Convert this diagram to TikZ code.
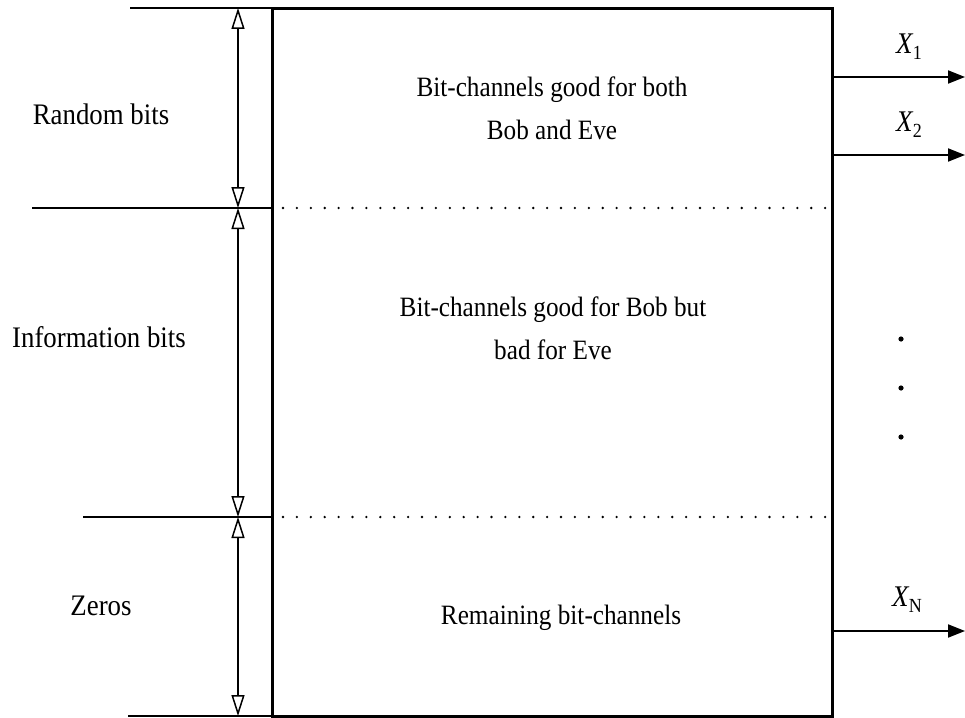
\documentclass[tikz,border=0pt]{standalone}
\usepackage{fontspec}
\setmainfont[FakeStretch=0.9]{Liberation Serif}
\usetikzlibrary{arrows.meta}
\newcommand{\outlbl}[1]{\textit{X}\kern-0.5pt\raisebox{-6pt}{\fontsize{20}{20}\selectfont #1}}
\begin{document}
\begin{tikzpicture}[x=1pt,y=-1pt,
  txt/.style={font=\fontsize{28}{43}\selectfont, align=center, inner sep=0pt},
  lbl/.style={font=\fontsize{29.8}{30}\selectfont, inner sep=0pt},
  xlbl/.style={font=\fontsize{30}{30}\selectfont, inner sep=0pt},
  rule/.style={line width=2pt},
  boxline/.style={line width=3pt},
  dimarrow/.style={line width=1.5pt, {Triangle[open,length=21pt,width=13pt]}-{Triangle[open,length=21pt,width=13pt]}},
  outarrow/.style={line width=2pt, -{Triangle[length=17pt,width=13pt]}},
  sep/.style={line width=2.6pt, line cap=round, dash pattern=on 0pt off 13.9pt}]
\useasboundingbox (0,0) rectangle (965,717);

% main block
\draw[boxline] (272,9) rectangle (832,716);

% level lines on the left
\coordinate (t0) at (238,8);
\coordinate (t1) at (238,208);
\coordinate (t2) at (238,517);
\coordinate (t3) at (238,716);
\draw[rule] (130,8) -- (272,8);
\draw[rule] (32,208) -- (272,208);
\draw[rule] (83,517) -- (272,517);
\draw[rule] (128,716) -- (272,716);

% dimension arrows
\draw[dimarrow] (t0) -- (t1);
\draw[dimarrow] (t1) -- (t2);
\draw[dimarrow] (t2) -- (t3);

% dotted separators
\draw[sep] (283,208) -- (826,208);
\draw[sep] (283,517) -- (826,517);

% left labels
\node[lbl] (rb) at (101,114) {Random bits};
\node[lbl] (ib) at (99,337) {Information bits};
\node[lbl] (zr) at (101,606) {Zeros};

% block contents
\node[txt] (c1) at (552,108) {Bit-channels good for both\\Bob and Eve};
\node[txt] (c2) at (553,328) {Bit-channels good for Bob but\\bad for Eve};
\node[txt] (c3) at (561,618) {Remaining bit-channels};

% outputs
\coordinate (o1s) at (832,77);  \coordinate (o1e) at (965,77);
\coordinate (o2s) at (832,155); \coordinate (o2e) at (965,155);
\coordinate (ons) at (832,631); \coordinate (one) at (965,631);
\draw[outarrow] (o1s) -- (o1e);
\draw[outarrow] (o2s) -- (o2e);
\draw[outarrow] (ons) -- (one);
\node[xlbl] (x1) at (909,47) {\outlbl{1}};
\node[xlbl] (x2) at (909,125) {\outlbl{2}};
\node[xlbl] (xn) at (907,600) {\outlbl{N}};

% vertical ellipsis
\fill (901,339) circle (2.6pt);
\fill (901,388) circle (2.6pt);
\fill (901,437) circle (2.6pt);
\end{tikzpicture}
\end{document}
